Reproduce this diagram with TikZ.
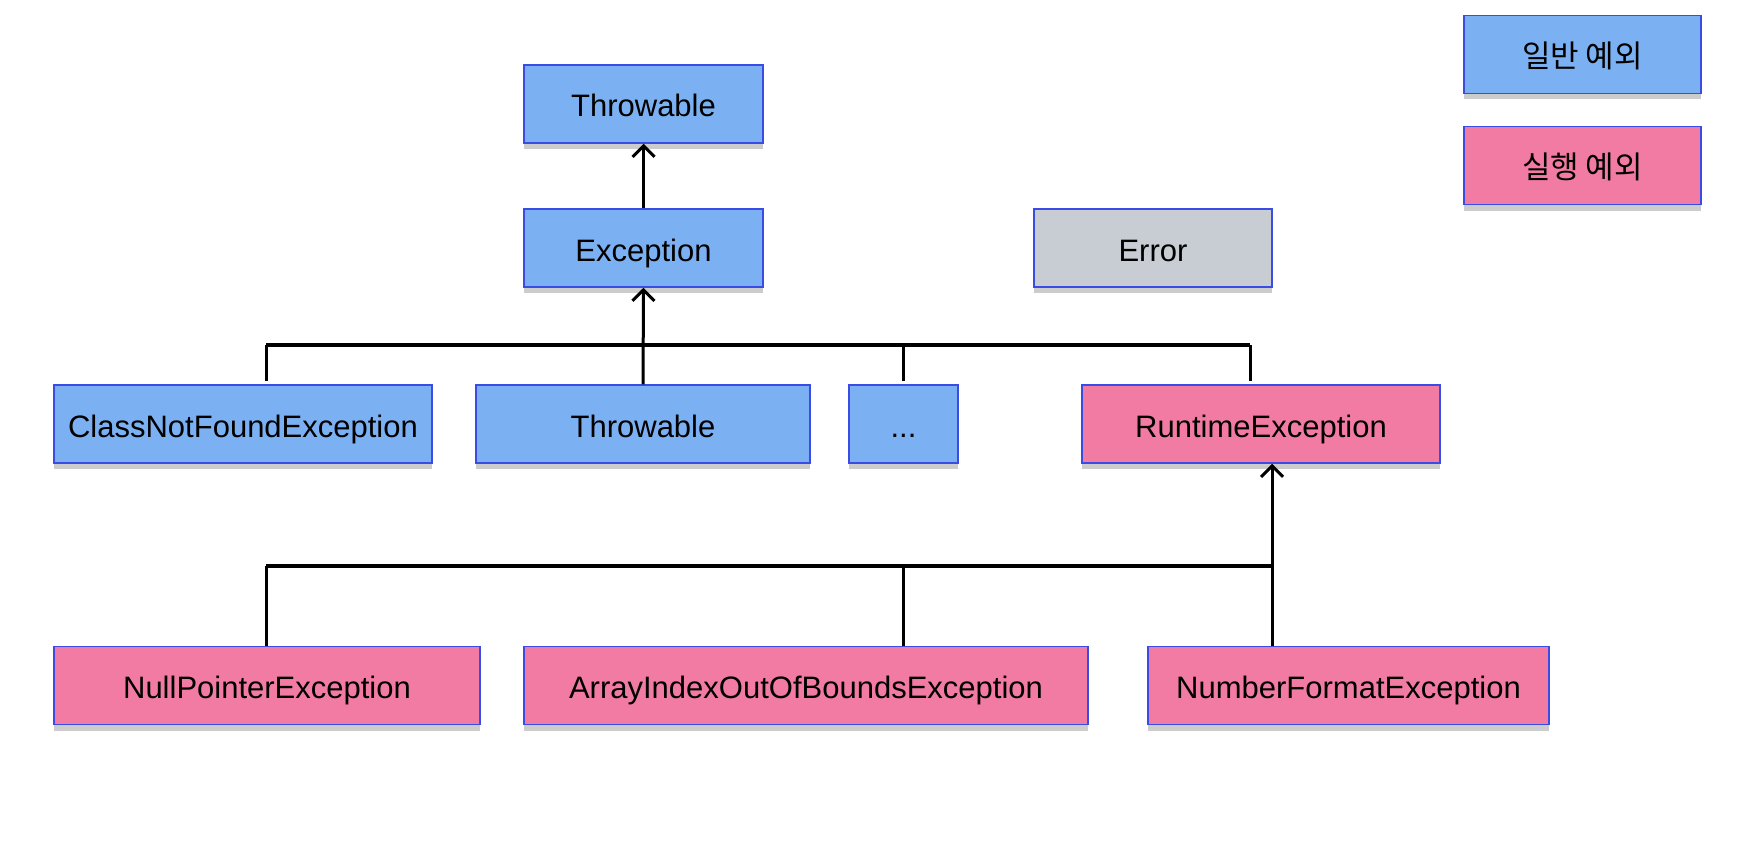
\documentclass[tikz,border=0pt]{standalone}
\usepackage{fontspec}
\setmainfont{Liberation Sans}
\newfontfamily\kofont{Noto Sans CJK KR}
\usetikzlibrary{arrows.meta, positioning, shadows}
\definecolor{general}{HTML}{7BB1F2}
\definecolor{runtime}{HTML}{F27BA4}
\definecolor{errgray}{HTML}{C8CDD4}
\definecolor{edge}{HTML}{3B4BE6}

\begin{document}
\begin{tikzpicture}[x=1pt, y=-1pt, font=\fontsize{31}{37}\selectfont,
  >={Straight Barb[length=11pt, width=22pt]},
  box/.style={draw=edge, line width=1.5pt, minimum height=78pt, inner sep=0pt,
    text height=29pt, text depth=3pt,
    drop shadow={shadow xshift=0pt, shadow yshift=-6pt, opacity=0.4}},
  gen/.style={box, fill=general},
  run/.style={box, fill=runtime},
  link/.style={line width=3pt},
  bus/.style={line width=4pt}]
  \useasboundingbox (0,0) rectangle (1761,848);

  % Legende
  \node[gen, minimum width=237pt] (leggen) at (1582.5,54.5) {\kofont 일반 예외};
  \node[run, minimum width=237pt] (legrun) at (1582.5,165.5) {\kofont 실행 예외};

  % Oberste Ebene
  \node[gen, minimum width=239pt] (throw) at (643.5,104) {Throwable};
  \node[gen, minimum width=239pt] (exc) at (643.5,248) {Exception};
  \node[box, fill=errgray, minimum width=238pt] (err) at (1153,248) {Error};

  % Checked exceptions
  \node[gen, minimum width=378pt] (cnf) at (243,424) {ClassNotFoundException};
  \node[gen, minimum width=334pt] (throwb) at (643,424) {Throwable};
  \node[gen, minimum width=109pt] (dots) at (903.5,424) {...};
  \node[run, minimum width=358pt] (rte) at (1261,424) {RuntimeException};

  % Runtime exceptions
  \node[run, minimum width=426pt] (npe) at (267,685.5) {NullPointerException};
  \node[run, minimum width=564pt] (aio) at (806,685.5) {ArrayIndexOutOfBoundsException};
  \node[run, minimum width=401pt] (nfe) at (1348.5,685.5) {NumberFormatException};

  % Sammelschienen
  \coordinate (upl) at (266,345);
  \coordinate (upr) at (1250,345);
  \coordinate (lol) at (266,566);
  \coordinate (lor) at (1272,566);

  \draw[link, ->] (exc.north) -- (throw.south);
  \draw[link, ->] (throwb.north) -- (exc.south);
  \draw[bus] (upl) -- (upr);
  \draw[link, shorten >=3pt] (upl) -- (upl |- cnf.north);
  \draw[link, shorten >=3pt] (dots.north |- upl) -- (dots.north);
  \draw[link, shorten >=3pt] (upr) -- (upr |- rte.north);

  \draw[bus] (lol) -- (lor);
  \draw[link] (lol) -- (lol |- npe.north);
  \draw[link] (dots.south |- lol) -- (dots.south |- aio.north);
  \draw[link, ->] (lor |- nfe.north) -- (lor |- rte.south);
\end{tikzpicture}
\end{document}
